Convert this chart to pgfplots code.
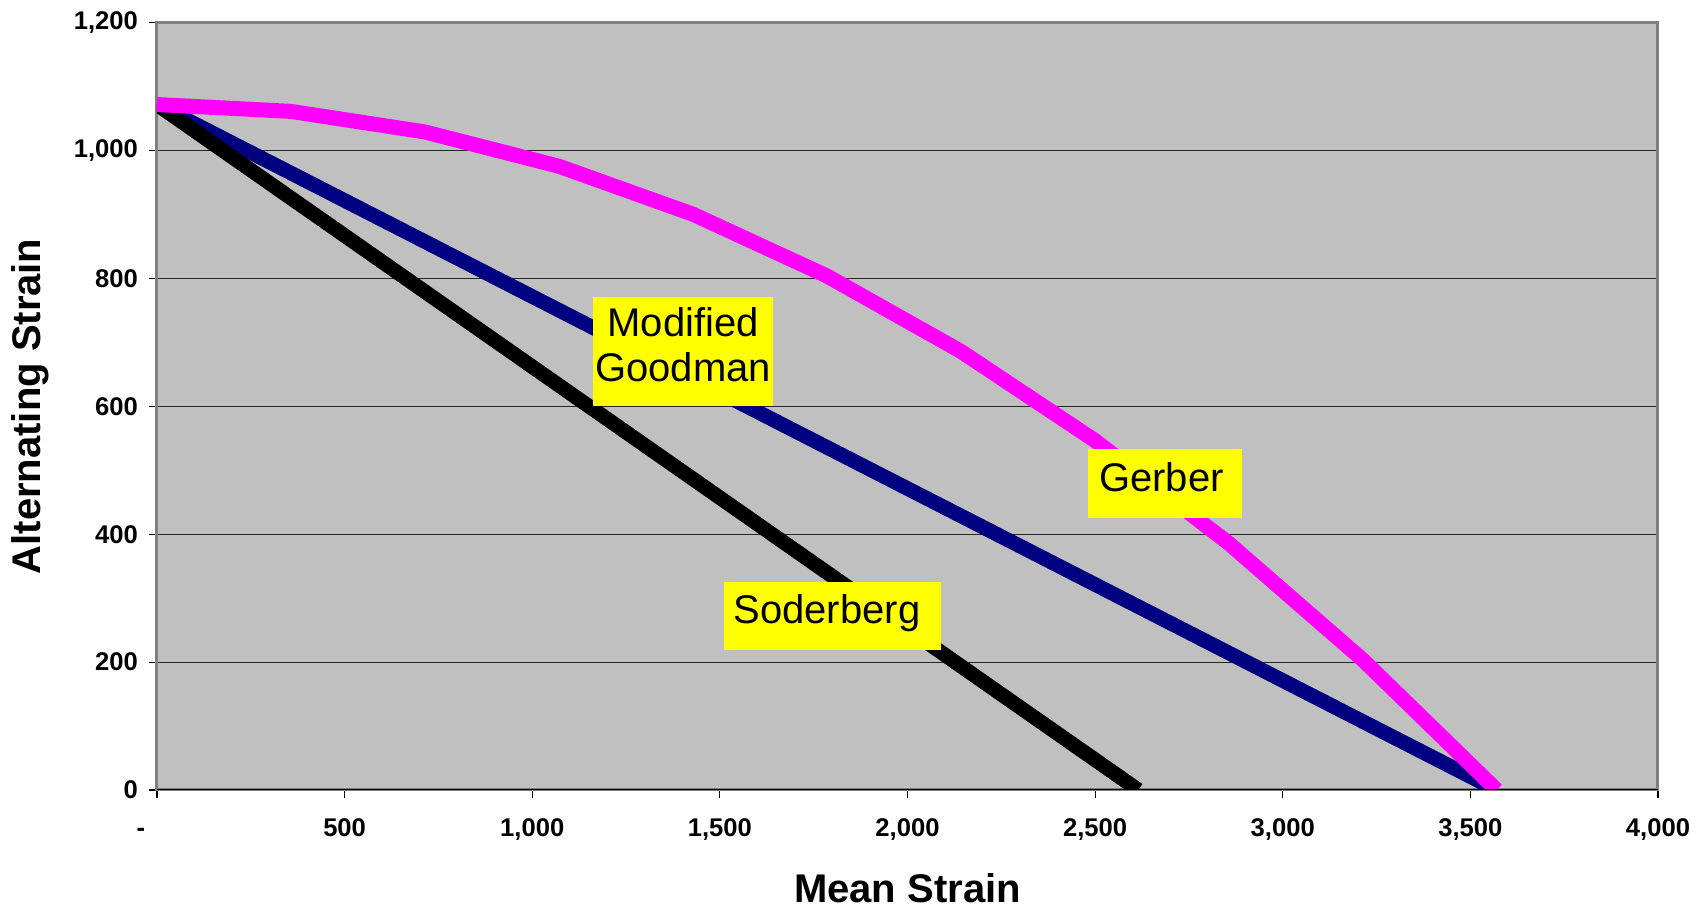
\documentclass[border=0pt]{standalone}
\usepackage{fontspec}
\setmainfont{Liberation Sans}
\usepackage{pgfplots}
\pgfplotsset{compat=1.18}
\definecolor{plotbg}{RGB}{192,192,192}
\definecolor{gerber}{RGB}{255,0,255}
\definecolor{goodman}{RGB}{0,0,128}
\definecolor{framegray}{RGB}{128,128,128}
\definecolor{boxyellow}{RGB}{255,255,0}

\pgfplotstableread{
x y
0 1072
357 964.8
714 857.6
1071 750.4
1428 643.2
1785 536
2142 428.8
2499 321.6
2856 214.4
3213 107.2
3570 0
}\goodmandata

\pgfplotstableread{
x y
0 1072
357 925.7
714 779.3
1071 632.9
1428 486.6
1785 340.2
2142 193.9
2499 47.6
2615 0
}\soderbergdata

\pgfplotstableread{
x y
0 1072
357 1061.3
714 1029.1
1071 975.5
1428 900.5
1785 804
2142 686.1
2499 546.7
2856 385.9
3213 203.7
3570 0
}\gerberdata

\begin{document}
\begin{tikzpicture}
\begin{axis}[
  scale only axis, width=750.5pt, height=383.65pt,
  xmin=0, xmax=4000, ymin=0, ymax=1200,
  axis background/.style={fill=plotbg},
  axis line style={draw=framegray, line width=1.5pt},
  xtick={0,500,...,4000},
  xticklabels={{\vphantom{0,}\makebox[0pt]{-\hspace{16pt}}},500,{1,000},{1,500},{2,000},{2,500},{3,000},{3,500},{4,000}},
  ytick={0,200,...,1200},
  yticklabels={0,200,400,600,800,{1,000},{1,200}},
  xtick pos=bottom, ytick pos=left, tick align=outside, major tick length=4pt,
  every tick/.style={black, line width=0.6pt},
  ymajorgrids, major grid style={black!85, line width=0.5pt},
  ticklabel style={font=\bfseries\fontsize{12.8}{14}\selectfont},
  xticklabel style={yshift=-7pt},
  yticklabel style={xshift=-2pt},
  xlabel={Mean Strain}, ylabel={Alternating Strain},
  label style={font=\bfseries\fontsize{20}{24}\selectfont},
  xlabel style={at={(axis description cs:0.5,-0.1277)}, anchor=center},
  ylabel style={at={(axis description cs:-0.0846,0.5)}, anchor=center},
  /pgf/number format/assume math mode=true,
]
\coordinate (SW) at (rel axis cs:0,0);
\addplot[goodman, line width=7.3pt, mark=none] table[x=x,y=y] {\goodmandata};
\addplot[black, line width=7.3pt, mark=none] table[x=x,y=y] {\soderbergdata};
\addplot[gerber, line width=7.5pt, mark=none, line join=round] table[x=x,y=y] {\gerberdata};
\draw[black, line width=0.8pt] (rel axis cs:0,0) -- (rel axis cs:1,0);

\node[fill=boxyellow, minimum width=90pt, minimum height=54.5pt, inner sep=0pt] at (axis cs:1402,685) {};
\node[align=center, font=\fontsize{20}{22.5}\selectfont, yshift=3.5pt] at (axis cs:1402,685) {Modified\\Goodman};

\node[fill=boxyellow, minimum width=77pt, minimum height=34.5pt, inner sep=0pt] at (axis cs:2686,479) {};
\node[font=\fontsize{20}{22.5}\selectfont, yshift=3.5pt, xshift=-1.75pt, text height=14.3pt, text depth=0pt] at (axis cs:2686,479) {Gerber};

\node[fill=boxyellow, minimum width=108.5pt, minimum height=34pt, inner sep=0pt] at (axis cs:1800,272) {};
\node[font=\fontsize{20}{22.5}\selectfont, yshift=3.5pt, xshift=-2.75pt, text height=14.3pt, text depth=0pt] at (axis cs:1800,272) {Soderberg};
\end{axis}
\pgfresetboundingbox
\path[use as bounding box] ([shift={(-78.5pt,-59.5pt)}]SW) rectangle ([shift={(774pt,395pt)}]SW);
\end{tikzpicture}
\end{document}
